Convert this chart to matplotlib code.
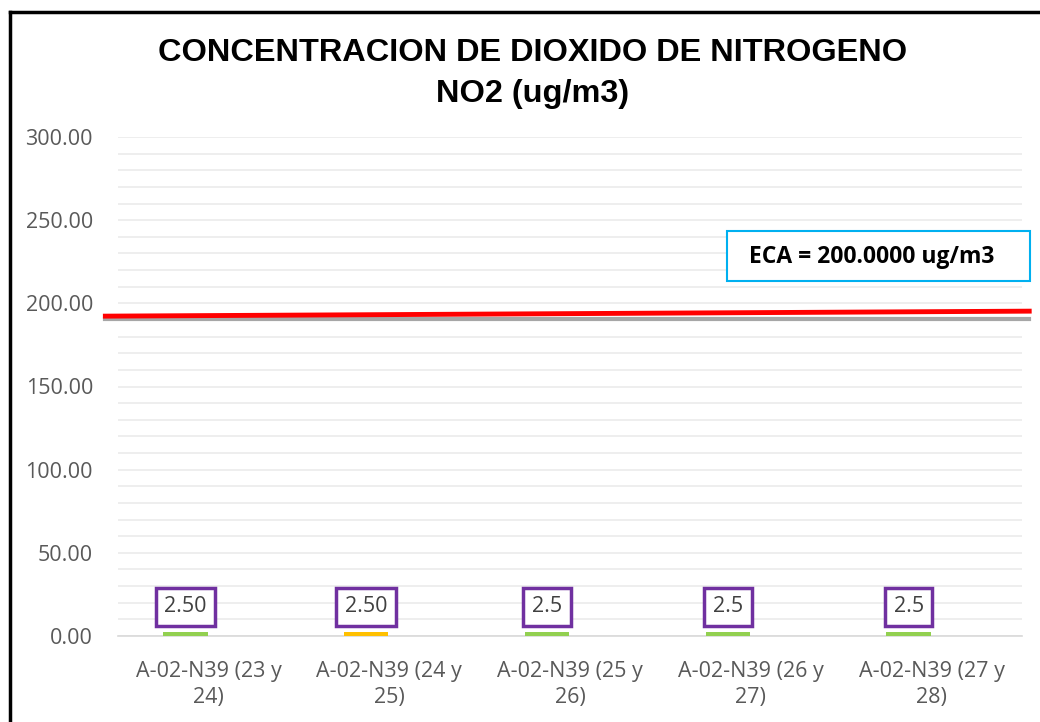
import matplotlib.pyplot as plt
from matplotlib.patches import Rectangle
from matplotlib.lines import Line2D

# Data
categories = ["A-02-N39 (23 y\n24)", "A-02-N39 (24 y\n25)", "A-02-N39 (25 y\n26)",
              "A-02-N39 (26 y\n27)", "A-02-N39 (27 y\n28)"]
values = [2.5, 2.5, 2.5, 2.5, 2.5]
value_labels = ["2.50", "2.50", "2.5", "2.5", "2.5"]
bar_colors = ["#92D050", "#FFC000", "#92D050", "#92D050", "#92D050"]
eca_line = [192.3, 195.3]   # red limit line as drawn (left end, right end)
eca_shadow = 190.5
eca_text = "ECA = 200.0000 ug/m3"
y_ticks = [0, 50, 100, 150, 200, 250, 300]


def main():
    fig = plt.figure(figsize=(10.4, 7.22), dpi=100)
    ax = fig.add_axes([118 / 1040, 1 - 636 / 722, 904 / 1040, (636 - 137) / 722])

    # bars sit a little left of the category centre (clustered layout)
    offset = -0.127
    x = [i + offset for i in range(len(categories))]
    ax.bar(x, values, width=0.245, color=bar_colors, zorder=3)
    ax.set_xlim(-0.5, len(categories) - 0.5)
    ax.set_ylim(0, 300)

    # gridlines every 10, labels every 50
    ax.set_yticks(y_ticks)
    ax.set_yticklabels([f"{v:.2f}" for v in y_ticks], fontsize=15.5,
                       color="#595959", family="Open Sans")
    ax.set_yticks(range(0, 301, 10), minor=True)
    ax.grid(axis="y", which="both", color="#EBEBEB", linewidth=1.2, zorder=0)
    ax.tick_params(axis="y", which="both", length=0, pad=18)
    ax.set_xticks(range(len(categories)))
    ax.set_xticklabels(categories, fontsize=15.5, color="#595959",
                       family="Open Sans", linespacing=1.32)
    ax.tick_params(axis="x", length=0, pad=18)
    for s in ["top", "right", "left"]:
        ax.spines[s].set_visible(False)
    ax.spines["bottom"].set_color("#D9D9D9")
    ax.spines["bottom"].set_linewidth(1.2)

    # value labels in purple boxes
    for xi, v, lab in zip(x, values, value_labels):
        ax.text(xi, v + 15, lab, ha="center", va="center", fontsize=15.5,
                color="#404040", family="Open Sans", zorder=5,
                bbox=dict(boxstyle="square,pad=0.4", fc="white",
                          ec="#7030A0", lw=2.5))

    # ECA line (red with gray shadow), extends slightly past axes
    ax.plot([-0.57, 4.54], [eca_shadow, eca_shadow], color="#A6A6A6",
            lw=3, clip_on=False, zorder=4)
    ax.plot([-0.57, 4.54], eca_line, color="#FF0000", lw=3.5,
            clip_on=False, zorder=4)

    # ECA label box
    fig.add_artist(Rectangle((727 / 1040, 1 - 281 / 722), 303 / 1040, 50 / 722,
                             transform=fig.transFigure, fc="white",
                             ec="#00B0F0", lw=1.5, zorder=6))
    fig.text(872 / 1040, 1 - 257 / 722, eca_text, ha="center", va="center",
             fontsize=16.5, fontweight="bold", family="Open Sans", zorder=7)

    # title
    fig.text(533 / 1040, 1 - 53 / 722, "CONCENTRACION DE DIOXIDO DE NITROGENO",
             ha="center", va="center", fontsize=23.4, fontweight="bold",
             family="Liberation Sans")
    fig.text(533 / 1040, 1 - 94 / 722, "NO2 (ug/m3)", ha="center", va="center",
             fontsize=23.4, fontweight="bold", family="Liberation Sans")

    # chart frame (left and top edges visible)
    fig.add_artist(Line2D([10 / 1040, 10 / 1040], [0, 1 - 12 / 722],
                          color="black", lw=2.5, transform=fig.transFigure))
    fig.add_artist(Line2D([10 / 1040, 1], [1 - 12 / 722, 1 - 12 / 722],
                          color="black", lw=2.5, transform=fig.transFigure))

    fig.savefig("out.png", dpi=100)


if __name__ == "__main__":
    main()
